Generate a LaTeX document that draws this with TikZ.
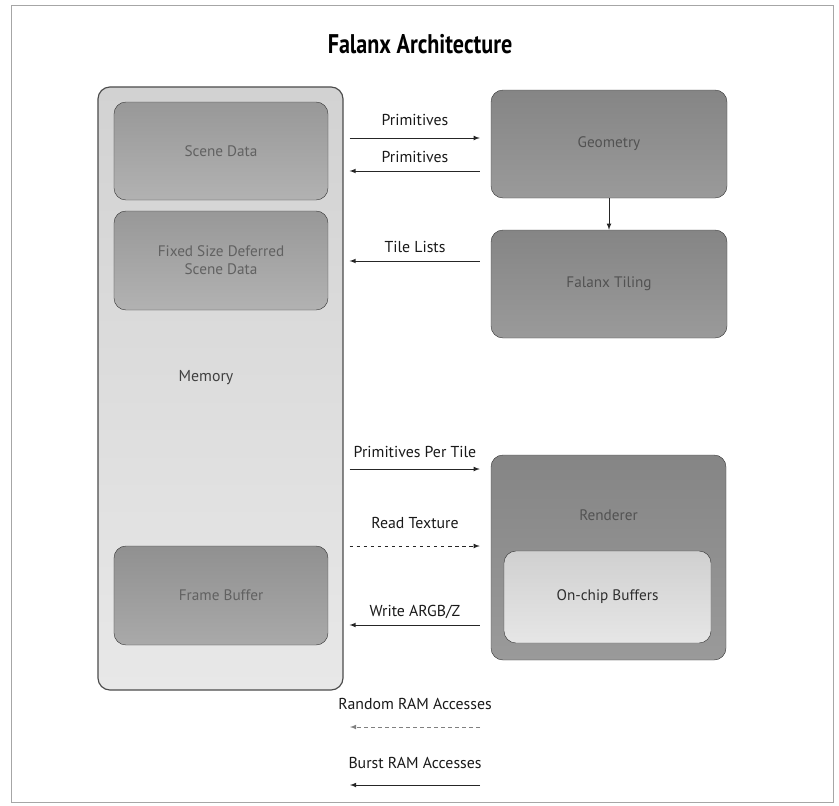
\documentclass[tikz,border=0pt]{standalone}
\usepackage{fontspec}
\setmainfont{PT Sans}
\usepackage{tikz}
\usetikzlibrary{arrows,positioning}
\definecolor{memtop}{HTML}{D2D2D2}
\definecolor{membot}{HTML}{E8E8E8}
\definecolor{scenetop}{HTML}{989898}
\definecolor{scenebot}{HTML}{B2B2B2}
\definecolor{geotop}{HTML}{858585}
\definecolor{geobot}{HTML}{9A9A9A}
\definecolor{chiptop}{HTML}{D0D0D0}
\definecolor{chipbot}{HTML}{E6E6E6}

\begin{document}
\begin{tikzpicture}[x=0.03cm,y=-0.03cm,
  blk/.style={draw=black!75, rounded corners=0.36cm, inner sep=0pt, align=center,
    font=\fontsize{13}{15.5}\selectfont, text=black!62},
  lbl/.style={font=\fontsize{13.5}{16}\selectfont, text=black!90},
  flow/.style={-latex, thick, black!85}]
\useasboundingbox (0,0) rectangle (839,805);
\draw[gray!70] (11,5) rectangle (833,802);
% title
\node[font=\fontsize{23}{27}\selectfont\bfseries, xscale=0.82] (title) at (420,44) {Falanx Architecture};

% memory column
\node[blk, draw=black!70, line width=1pt, minimum width=7.35cm, minimum height=18.09cm,
  top color=memtop, bottom color=membot] (mem) at (220.5,388.5) {};
\node[lbl, text=black!75] (memlbl) at (206,378) {Memory};
\node[blk, minimum width=6.42cm, minimum height=2.94cm, top color=scenetop, bottom color=scenebot] (scene) at (221,151) {Scene Data};
\node[blk, minimum width=6.42cm, minimum height=2.97cm, top color=scenetop, bottom color=scenebot] (fixed) at (221,260.5) {Fixed Size Deferred\\Scene Data};
\node[blk, minimum width=6.42cm, minimum height=2.97cm, top color=scenetop!95!black, bottom color=scenebot!95!black] (frame) at (221,595.5) {Frame Buffer};

% pipeline
\node[blk, minimum width=7.08cm, minimum height=3.24cm, top color=geotop, bottom color=geobot, text=black!68] (geo) at (609,144) {Geometry};
\node[blk, minimum width=7.08cm, minimum height=3.24cm, top color=geotop, bottom color=geobot, text=black!68] (tiling) at (609,284) {Falanx Tiling};
\node[blk, minimum width=7.05cm, minimum height=6.15cm, top color=geotop, bottom color=geobot, text=black!68, text depth=2.55cm] (rend) at (608.5,557.5) {Renderer};
\node[blk, minimum width=6.21cm, minimum height=2.76cm, top color=chiptop, bottom color=chipbot, text=black!82] (chip) at (607.5,597) {On-chip Buffers};
\draw[flow] (geo) -- (tiling);

% transfers
\node[lbl] (prim1) at (415,120) {Primitives};
\draw[flow, shorten <=0.18cm, shorten >=0.33cm] (mem.east |- 0,138) -- (geo.west |- 0,138);
\node[lbl] (prim2) at (415,157) {Primitives};
\draw[flow, shorten <=0.33cm, shorten >=0.18cm] (geo.west |- 0,171) -- (mem.east |- 0,171);
\node[lbl] (tiles) at (415,247) {Tile Lists};
\draw[flow, shorten <=0.33cm, shorten >=0.18cm] (tiling.west |- 0,261) -- (mem.east |- 0,261);
\node[lbl] (ppt) at (415,452) {Primitives Per Tile};
\draw[flow, shorten <=0.18cm, shorten >=0.33cm] (mem.east |- 0,469) -- (rend.west |- 0,469);
\node[lbl] (tex) at (415,523) {Read Texture};
\draw[flow, dashed, shorten <=0.18cm, shorten >=0.33cm] (mem.east |- 0,546) -- (rend.west |- 0,546);
\node[lbl] (argb) at (415,612) {Write ARGB/Z};
\draw[flow, shorten <=0.33cm, shorten >=0.18cm] (rend.west |- 0,625) -- (mem.east |- 0,625);

% legend
\node[lbl] (rnd) at (415,704) {Random RAM Accesses};
\coordinate (rndR) at (480,727);
\coordinate (rndL) at (350,727);
\draw[flow, dashed, gray] (rndR) -- (rndL);
\node[lbl] (bst) at (415,763) {Burst RAM Accesses};
\coordinate (bstR) at (480,785);
\coordinate (bstL) at (350,785);
\draw[flow] (bstR) -- (bstL);
\end{tikzpicture}
\end{document}
